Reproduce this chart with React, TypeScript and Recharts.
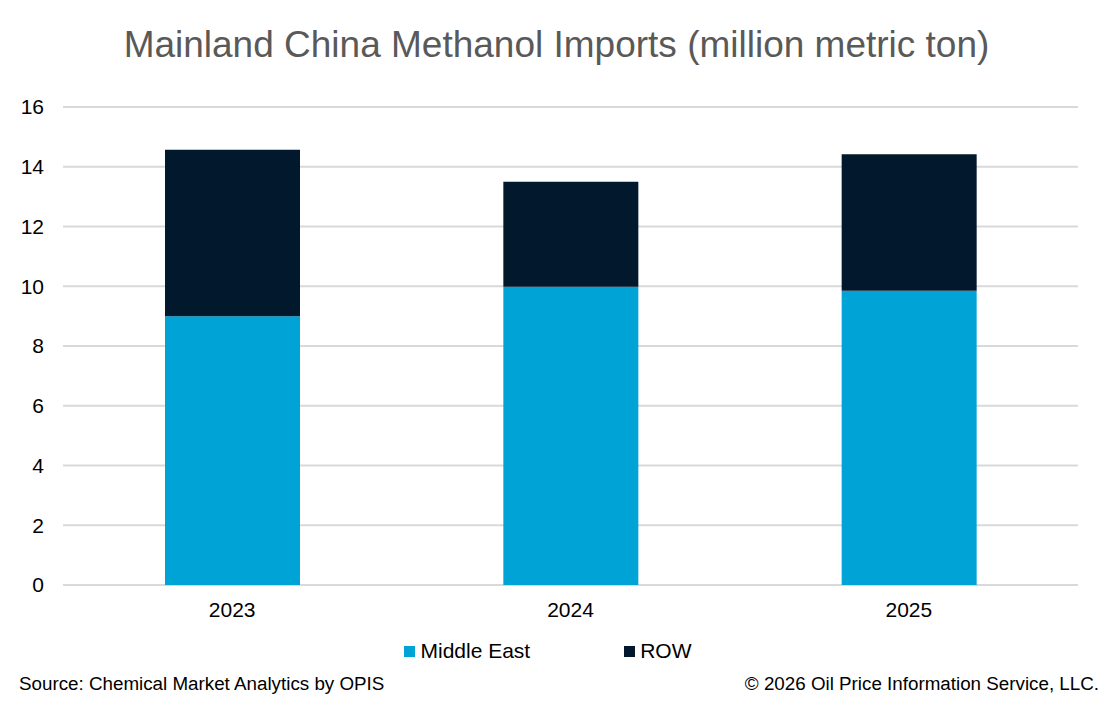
import React from "react";
import { BarChart, Bar, XAxis, YAxis, CartesianGrid } from "recharts";

const years = ["2023", "2024", "2025"];
const middleEast = [9.0, 9.98, 9.85];
const row = [5.57, 3.52, 4.57];
const yTicks = [0, 2, 4, 6, 8, 10, 12, 14, 16];

const ME_COLOR = "#00A3D6";
const ROW_COLOR = "#02182D";
const FONT = "'Liberation Sans', Arial, sans-serif";

const data = years.map((y, i) => ({ year: y, me: middleEast[i], row: row[i] }));

const legendItems = [
  { label: "Middle East", color: ME_COLOR },
  { label: "ROW", color: ROW_COLOR },
];

export default function App() {
  return (
    <div style={{ position: "absolute", left: 0, top: 0, width: 1113, height: 713, background: "#fff", fontFamily: FONT }}>
      <div
        style={{
          position: "absolute",
          top: 22,
          left: 0,
          width: 1113,
          textAlign: "center",
          fontSize: 37,
          color: "#595959",
          lineHeight: "46px",
        }}
      >
        Mainland China Methanol Imports (million metric ton)
      </div>
      <BarChart
        width={1113}
        height={713}
        data={data}
        margin={{ top: 107, right: 35, bottom: 98, left: 0 }}
      >
        <CartesianGrid vertical={false} stroke="#D9D9D9" strokeWidth={2} />
        <XAxis
          dataKey="year"
          height={30}
          axisLine={false}
          tickLine={false}
          tickSize={0}
          tickMargin={17}
          tick={{ fill: "#000", fontSize: 21, fontFamily: FONT }}
        />
        <YAxis
          width={63}
          domain={[0, 16]}
          ticks={yTicks}
          interval={0}
          axisLine={false}
          tickLine={false}
          tickSize={0}
          tickMargin={19}
          tick={{ fill: "#000", fontSize: 21, fontFamily: FONT }}
        />
        <Bar dataKey="me" name="Middle East" stackId="a" fill={ME_COLOR} barSize={135} isAnimationActive={false} />
        <Bar dataKey="row" name="ROW" stackId="a" fill={ROW_COLOR} barSize={135} isAnimationActive={false} />
      </BarChart>
      <div
        style={{
          position: "absolute",
          top: 638,
          left: 0,
          width: 1113,
          display: "flex",
          justifyContent: "center",
          gap: 94,
          paddingRight: 17,
          boxSizing: "border-box",
          fontSize: 21,
          color: "#000",
          lineHeight: "26px",
        }}
      >
        {legendItems.map((it) => (
          <div key={it.label} style={{ display: "flex", alignItems: "center" }}>
            <span style={{ width: 11, height: 11, background: it.color, display: "inline-block", marginRight: 5 }} />
            <span>{it.label}</span>
          </div>
        ))}
      </div>
      <div style={{ position: "absolute", left: 19, top: 672, fontSize: 18.8, color: "#000", lineHeight: "24px" }}>
        Source: Chemical Market Analytics by OPIS
      </div>
      <div style={{ position: "absolute", right: 14, top: 672, fontSize: 18.8, color: "#000", lineHeight: "24px" }}>
        © 2026 Oil Price Information Service, LLC.
      </div>
    </div>
  );
}
